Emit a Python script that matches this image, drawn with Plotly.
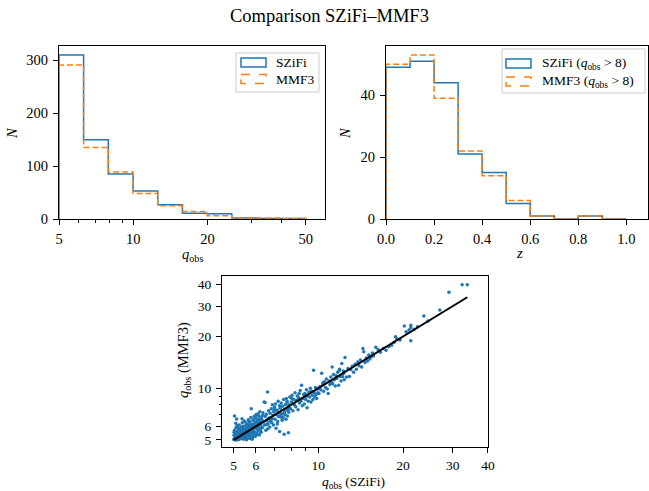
import math
import plotly.graph_objects as go

W, H = 649, 491
BLUE = "#1f77b4"
ORANGE = "#ff7f0e"
FONT = "Liberation Serif"

# ---------------- data ----------------
q_edges = [5.0, 6.29, 7.92, 9.98, 12.56, 15.81, 19.91, 25.06, 31.55, 39.72, 50.0]
q_counts_szifi = [310, 150, 85, 53, 27, 11, 10, 2, 1, 1]
q_counts_mmf3 = [291, 135, 89, 48, 25, 14, 6, 2, 2, 1]

z_edges = [0.0, 0.1, 0.2, 0.3, 0.4, 0.5, 0.6, 0.7, 0.8, 0.9, 1.0]
z_counts_szifi = [49, 51, 44, 21, 15, 5, 1, 0, 1, 0]
z_counts_mmf3 = [50, 53, 39, 22, 14, 6, 1, 0, 1, 0]

q_ticks = [5, 10, 20, 50]
z_ticks = [0.0, 0.2, 0.4, 0.6, 0.8, 1.0]
scatter_ticks = [5, 6, 10, 20, 30, 40]

q_szifi = [
    5.01, 5.02, 5.03, 5.04, 5.05, 5.06, 5.07, 5.08, 5.09, 5.10,
    5.11, 5.12, 5.13, 5.14, 5.15, 5.16, 5.17, 5.18, 5.19, 5.20,
    5.21, 5.22, 5.23, 5.24, 5.25, 5.26, 5.27, 5.28, 5.29, 5.30,
    5.02, 5.06, 5.09, 5.13, 5.17, 5.21, 5.24, 5.27, 5.04, 5.15,
    5.31, 5.33, 5.34, 5.36, 5.37, 5.39, 5.40, 5.42, 5.43, 5.45,
    5.46, 5.48, 5.49, 5.51, 5.52, 5.54, 5.55, 5.57, 5.58, 5.60,
    5.61, 5.63, 5.64, 5.66, 5.67, 5.69, 5.70, 5.32, 5.35, 5.38,
    5.41, 5.44, 5.47, 5.50, 5.53, 5.56, 5.59, 5.62, 5.65, 5.68,
    5.36, 5.44, 5.52, 5.60, 5.68,
    5.71, 5.72, 5.74, 5.75, 5.77, 5.78, 5.80, 5.81, 5.83, 5.84,
    5.86, 5.87, 5.89, 5.90, 5.92, 5.93, 5.95, 5.96, 5.98, 5.99,
    6.01, 6.02, 6.04, 6.05, 6.07, 6.08, 6.10, 6.11, 6.13, 6.14,
    6.16, 6.17, 6.19, 6.20, 6.22, 6.23, 6.25, 6.26, 6.28, 5.73,
    5.79, 5.85, 5.91, 5.97, 6.03, 6.09, 6.15, 6.21, 6.27, 5.76,
    5.88, 6.00, 6.12, 6.24, 5.82,
    6.30, 6.33, 6.36, 6.39, 6.42, 6.45, 6.48, 6.51, 6.54, 6.57,
    6.60, 6.63, 6.66, 6.69, 6.72, 6.75, 6.78, 6.81, 6.84, 6.87,
    6.90, 6.93, 6.96, 6.99, 7.02, 7.05, 7.08, 7.11, 7.14, 7.17,
    7.20, 7.23, 7.26, 7.29, 7.32, 7.35, 7.38, 7.41, 7.44, 7.47,
    7.50, 7.53, 7.56, 7.59, 7.62, 7.65, 7.68, 7.71, 7.74, 7.77,
    7.80, 7.83, 7.86, 7.89, 6.35, 6.47, 6.62, 6.74, 6.88, 7.01,
    7.15, 7.28, 7.42, 7.57, 7.70, 7.85, 6.55, 6.95, 7.35, 7.75,
    7.92, 7.97, 8.02, 8.07, 8.12, 8.17, 8.22, 8.27, 8.32, 8.37,
    8.42, 8.47, 8.52, 8.57, 8.62, 8.67, 8.72, 8.77, 8.82, 8.87,
    8.92, 8.97, 9.02, 9.07, 9.12, 9.17, 9.22, 9.27, 9.32, 9.37,
    9.42, 9.47, 9.52, 9.57, 9.62, 9.67, 9.72, 9.77, 9.82, 9.87,
    9.92, 9.97, 8.05, 8.55, 9.05,
    10.05, 10.12, 10.20, 10.28, 10.36, 10.44, 10.52, 10.60, 10.68, 10.76,
    10.84, 10.92, 11.00, 11.08, 11.16, 11.24, 11.32, 11.40, 11.48, 11.56,
    11.64, 11.72, 11.80, 11.88, 11.96, 12.04, 12.12, 12.20, 12.28, 12.36,
    12.44, 10.40, 11.20, 11.90, 12.30,
    12.60, 12.75, 12.90, 13.05, 13.20, 13.35, 13.50, 13.65, 13.80, 13.95,
    14.10, 14.25, 14.40, 14.50, 14.65, 14.80, 14.95, 15.10, 15.25, 15.40,
    15.55, 15.70,
    16.00, 16.30, 16.60, 17.00, 17.40, 17.80, 18.20, 18.60, 18.80, 19.00, 19.50,
    20.2, 20.5, 21.0, 21.3, 21.3, 21.3, 21.9, 22.5, 23.7, 24.5,
    27.0, 29.1, 32.4, 33.8,
]
q_mmf3 = [
    5.05, 5.32, 5.01, 6.90, 5.21, 5.60, 5.12, 5.45, 5.02, 5.88,
    5.30, 5.07, 6.62, 5.51, 5.18, 5.95, 5.36, 5.09, 5.72, 5.24,
    5.58, 5.03, 5.40, 6.10, 5.15, 5.67, 5.29, 5.84, 5.10, 5.47,
    5.55, 5.20, 6.25, 5.00, 5.42, 5.14, 5.78, 5.33, 5.70, 6.05,
    5.62, 5.10, 5.95, 5.40, 6.30, 5.22, 5.71, 5.05, 5.88, 5.50,
    6.45, 5.28, 5.80, 5.15, 6.05, 5.60, 5.35, 6.20, 5.48, 5.90,
    5.12, 5.75, 6.55, 5.40, 5.98, 5.25, 6.12, 5.18, 5.55, 5.84,
    6.00, 5.34, 5.66, 6.35, 5.44, 5.02, 5.77, 6.18, 5.52, 5.30,
    6.65, 5.92, 5.20, 5.64, 6.40,
    5.85, 6.40, 5.30, 6.05, 5.62, 7.60, 5.48, 6.20, 5.90, 5.15,
    6.55, 5.72, 6.10, 5.38, 6.85, 5.98, 5.55, 6.30, 6.70, 5.25,
    6.15, 5.80, 6.95, 5.45, 6.40, 6.05, 5.65, 7.10, 6.25, 5.90,
    6.60, 5.35, 6.35, 7.30, 5.75, 6.50, 6.10, 5.55, 6.80, 5.10,
    6.00, 5.68, 6.45, 5.95, 6.65, 5.40, 6.90, 6.20, 5.85, 6.75,
    5.22, 7.00, 6.30, 5.60, 5.05,
    6.60, 5.90, 7.20, 6.35, 8.30, 6.10, 6.85, 5.70, 7.05, 6.45,
    9.50, 6.20, 7.40, 6.70, 5.95, 7.15, 6.55, 7.60, 6.30, 8.00,
    6.95, 6.10, 7.30, 7.75, 6.60, 8.10, 5.85, 7.00, 7.45, 6.40,
    8.40, 6.85, 7.20, 5.60, 7.65, 6.95, 8.20, 7.10, 6.50, 7.85,
    6.75, 8.60, 5.40, 7.30, 7.00, 8.05, 6.60, 7.55, 8.30, 6.90,
    7.40, 5.50, 8.00, 7.70, 6.95, 8.25, 5.80, 6.40, 6.65, 7.55,
    6.20, 7.90, 6.80, 7.15, 8.70, 7.25, 6.15, 7.35, 6.80, 8.40,
    8.90, 7.60, 8.30, 9.10, 7.40, 8.60, 8.00, 9.40, 7.80, 8.50,
    9.00, 7.50, 8.80, 8.20, 9.70, 8.40, 10.40, 7.90, 8.70, 9.20,
    8.10, 9.30, 8.60, 9.80, 7.70, 9.00, 8.40, 9.50, 8.90, 10.00,
    8.30, 9.60, 9.10, 8.60, 12.70, 9.40, 8.90, 10.10, 9.20, 8.70,
    9.90, 9.40, 8.70, 9.30, 9.00,
    9.30, 10.20, 9.80, 12.20, 10.60, 9.60, 10.90, 10.10, 11.30, 9.90,
    9.30, 11.00, 10.50, 11.60, 10.80, 10.60, 12.00, 11.20, 10.30, 11.80,
    11.40, 12.40, 10.40, 12.70, 11.70, 11.00, 13.90, 11.70, 12.60, 11.20,
    15.10, 10.80, 13.30, 12.90, 12.20,
    11.60, 13.00, 11.70, 12.80, 13.40, 12.40, 13.80, 12.90, 14.20, 13.50,
    14.60, 13.30, 17.00, 16.30, 14.10, 15.00, 14.40, 15.60, 14.80, 15.30,
    16.00, 15.40,
    17.30, 16.80, 16.20, 17.00, 16.60, 17.40, 17.80, 18.50, 19.90, 19.40, 19.10,
    23.0, 21.3, 21.8, 23.2, 22.5, 18.9, 22.0, 22.8, 26.3, 24.6,
    28.5, 36.2, 40.0, 40.0,
]

title_text = "Comparison SZiFi\u2013MMF3"
q_label = "<i>q</i><sub>obs</sub>"


def step_xy(edges, counts):
    xs = [edges[0]] + list(edges) + [edges[-1]]
    ys = [0] + list(counts) + [counts[-1], 0]
    return xs, ys


def px(x):
    return x / W


def py(y):
    return 1 - y / H


fig = go.Figure()

for counts, color, dash in [(q_counts_szifi, BLUE, "solid"), (q_counts_mmf3, ORANGE, "6px,3px")]:
    xs, ys = step_xy(q_edges, counts)
    fig.add_trace(go.Scatter(x=xs, y=ys, mode="lines", line=dict(color=color, width=1.5, dash=dash, shape="hv"),
                             xaxis="x", yaxis="y", showlegend=False, hoverinfo="skip"))

for counts, color, dash in [(z_counts_szifi, BLUE, "solid"), (z_counts_mmf3, ORANGE, "6px,3px")]:
    xs, ys = step_xy(z_edges, counts)
    fig.add_trace(go.Scatter(x=xs, y=ys, mode="lines", line=dict(color=color, width=1.5, dash=dash, shape="hv"),
                             xaxis="x2", yaxis="y2", showlegend=False, hoverinfo="skip"))

fig.add_trace(go.Scatter(x=q_szifi, y=q_mmf3, mode="markers",
                         marker=dict(color=BLUE, size=3.5, line=dict(width=0)),
                         xaxis="x3", yaxis="y3", showlegend=False))
lo, hi = min(q_szifi), max(q_szifi)
fig.add_trace(go.Scatter(x=[lo, hi], y=[lo, hi], mode="lines", line=dict(color="black", width=2),
                         xaxis="x3", yaxis="y3", showlegend=False))

TICK = 14.5
axis_common = dict(showline=True, linecolor="black", linewidth=1, mirror=True, ticks="outside",
                   ticklen=5, tickwidth=1, tickcolor="black", showgrid=False, zeroline=False,
                   automargin=False,
                   tickfont=dict(family=FONT, size=TICK, color="black"), ticklabelstandoff=2)
minor_common = dict(ticks="outside", ticklen=2.5, tickwidth=0.8, tickcolor="black", showgrid=False)

fig.update_layout(
    width=W, height=H, margin=dict(l=0, r=0, t=0, b=0, pad=0, autoexpand=False),
    plot_bgcolor="white", paper_bgcolor="white",
    font=dict(family=FONT, size=TICK, color="black"),
    xaxis=dict(axis_common, domain=[px(59), px(325)], anchor="y", type="log",
               range=[math.log10(5), math.log10(59.8)],
               tickmode="array", tickvals=q_ticks, ticktext=[str(t) for t in q_ticks],
               minor=dict(minor_common, tickmode="array", tickvals=[6, 7, 8, 9, 30, 40])),
    yaxis=dict(axis_common, domain=[py(219), py(46)], anchor="x", range=[0, 327],
               tickmode="array", tickvals=[0, 100, 200, 300]),
    xaxis2=dict(axis_common, domain=[px(386), px(648)], anchor="y2", range=[0, 1.09],
                tickmode="array", tickvals=z_ticks, ticktext=[f"{t:.1f}" for t in z_ticks]),
    yaxis2=dict(axis_common, domain=[py(219), py(46)], anchor="x2", range=[0, 55.9],
                tickmode="array", tickvals=[0, 20, 40]),
    xaxis3=dict(axis_common, domain=[px(222), px(488)], anchor="y3", type="log",
                range=[0.658, 1.6025],
                tickmode="array", tickvals=scatter_ticks, ticktext=[str(t) for t in scatter_ticks],
                tickfont=dict(family=FONT, size=13.5, color="black"), ticklabelstandoff=1,
                minor=dict(minor_common, tickmode="array", tickvals=[7, 8, 9])),
    yaxis3=dict(axis_common, domain=[py(447), py(276)], anchor="x3", type="log",
                range=[0.658, 1.6526],
                tickmode="array", tickvals=scatter_ticks, ticktext=[str(t) for t in scatter_ticks],
                tickfont=dict(family=FONT, size=13.5, color="black"),
                minor=dict(minor_common, tickmode="array", tickvals=[7, 8, 9])),
)

ann = []


def label(text, x, y, size=TICK, angle=0, xanchor="center"):
    ann.append(dict(text=text, x=px(x), y=py(y), xref="paper", yref="paper", showarrow=False,
                    xanchor=xanchor, yanchor="middle", textangle=angle,
                    font=dict(family=FONT, size=size, color="black")))


label(title_text, 329, 16, size=18.5)
label(q_label, 192, 255)
label("<i>N</i>", 12, 133, angle=-90)
label("<i>z</i>", 519, 253)
label("<i>N</i>", 345, 133, angle=-90)
label(q_label + " (SZiFi)", 353, 482.5, size=13.5)
label(q_label + " (MMF3)", 184, 360, angle=-90)

shapes = []


def legend_box(x0, y0, x1, y1, entries):
    shapes.append(dict(type="rect", xref="paper", yref="paper", x0=px(x0), x1=px(x1), y0=py(y0), y1=py(y1),
                       line=dict(color="#cccccc", width=1), fillcolor="rgba(255,255,255,0.8)", layer="above"))
    for (ex0, ex1, ey0, ey1, color, dash, text, tx) in entries:
        shapes.append(dict(type="rect", xref="paper", yref="paper", x0=px(ex0), x1=px(ex1), y0=py(ey0), y1=py(ey1),
                           line=dict(color=color, width=1.5, dash=dash), fillcolor="rgba(0,0,0,0)", layer="above"))
        label(text, tx, (ey0 + ey1) / 2, size=13.5, xanchor="left")


legend_box(236, 53, 319, 92, [
    (241, 266, 58, 67, BLUE, "solid", "SZiFi", 274),
    (241, 266, 74.5, 83.5, ORANGE, "dash", "MMF3", 274),
])
legend_box(502, 49, 645, 93, [
    (506, 531, 59, 68, BLUE, "solid", "SZiFi (" + q_label + " &gt; 8)", 540),
    (506, 531, 77, 86, ORANGE, "dash", "MMF3 (" + q_label + " &gt; 8)", 540),
])

fig.update_layout(annotations=ann, shapes=shapes)
fig.write_html("out.html")
